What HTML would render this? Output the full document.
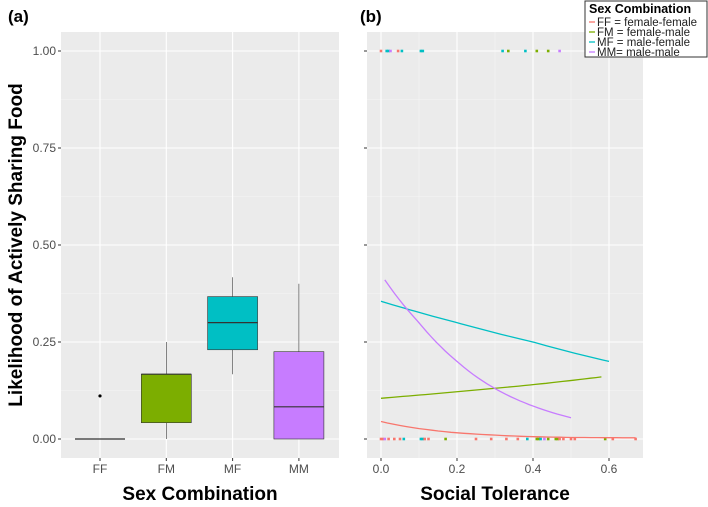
<!DOCTYPE html>
<html><head><meta charset="utf-8"><style>
body{margin:0;background:#fff;font-family:"Liberation Sans",sans-serif}
svg text{font-family:"Liberation Sans",sans-serif}
</style></head><body>
<svg id="c" width="708" height="502" xmlns="http://www.w3.org/2000/svg"></svg>
<script>
const cats=["FF","FM","MF","MM"];
const colors=["#F8766D","#7CAE00","#00BFC4","#C77CFF"];
const boxLow=[0,0,0.167,0];
const boxQ1=[0,0.042,0.23,0];
const boxMed=[0,0.167,0.30,0.083];
const boxQ3=[0,0.167,0.367,0.225];
const boxHigh=[0,0.25,0.417,0.40];
const outliers=[[0,0.111]];
const yTicks=[0,0.25,0.5,0.75,1];
const yTickLabels=["0.00","0.25","0.50","0.75","1.00"];
const xTicksB=[0,0.2,0.4,0.6];
const xTickLabelsB=["0.0","0.2","0.4","0.6"];
const curveX=[[0,0.1,0.2,0.3,0.4,0.5,0.67],[0,0.2,0.4,0.58],[0,0.2,0.4,0.6],[0.01,0.1,0.2,0.3,0.4,0.5]];
const curveY=[[0.045,0.027,0.016,0.010,0.006,0.004,0.003],[0.105,0.122,0.14,0.16],[0.355,0.30,0.25,0.20],[0.41,0.30,0.20,0.13,0.085,0.055]];
const topPtsX=[0.0,0.015,0.02,0.025,0.045,0.055,0.105,0.11,0.32,0.335,0.38,0.41,0.44,0.47];
const topPtsG=[0,2,2,3,0,2,2,2,2,1,2,1,1,3];
const botPtsX=[0.0,0.005,0.01,0.02,0.035,0.05,0.06,0.105,0.11,0.115,0.125,0.17,0.25,0.29,0.33,0.36,0.385,0.41,0.415,0.42,0.43,0.44,0.46,0.465,0.47,0.48,0.5,0.51,0.59,0.61,0.67];
const botPtsG=[0,0,3,0,0,0,2,2,2,0,0,1,0,0,0,0,2,1,1,2,3,1,1,1,0,0,0,0,1,0,0];

const svg=document.getElementById('c');
const NS="http://www.w3.org/2000/svg";
function el(t,a,p){const e=document.createElementNS(NS,t);for(const k in a)e.setAttribute(k,a[k]);(p||svg).appendChild(e);return e;}
function txt(s,a,p){const e=el('text',a,p);e.textContent=s;return e;}
const yS=v=>439-v*388;
// panel a
const A={x0:61,x1:339,y0:32,y1:458};
const xA=i=>100+i*66.3;
let g=el('g',{});
el('rect',{x:A.x0,y:A.y0,width:A.x1-A.x0,height:A.y1-A.y0,fill:"#EBEBEB"},g);
for(let i=0;i<yTicks.length-1;i++){const m=(yTicks[i]+yTicks[i+1])/2;el('line',{x1:A.x0,x2:A.x1,y1:yS(m),y2:yS(m),stroke:"#F5F5F5","stroke-width":0.6},g);}
yTicks.forEach((v,i)=>{el('line',{x1:A.x0,x2:A.x1,y1:yS(v),y2:yS(v),stroke:"#fff","stroke-width":1.1},g);
 el('line',{x1:A.x0-3,x2:A.x0,y1:yS(v),y2:yS(v),stroke:"#333"},g);
 const t=txt(yTickLabels[i],{x:A.x0-5,y:yS(v)+4,"text-anchor":"end","font-size":12,fill:"#4D4D4D"},g);});
cats.forEach((c,i)=>{const x=xA(i);el('line',{x1:x,x2:x,y1:A.y0,y2:A.y1,stroke:"#fff","stroke-width":1.1},g);
 el('line',{x1:x,x2:x,y1:A.y1,y2:A.y1+3,stroke:"#333"},g);
 const t=txt(c,{x:x,y:A.y1+15,"text-anchor":"middle","font-size":12,fill:"#4D4D4D"},g);});
cats.forEach((c,i)=>{const x=xA(i),w=50;const bg=el('g',{},g);
 el('line',{x1:x,x2:x,y1:yS(boxHigh[i]),y2:yS(boxQ3[i]),stroke:"#333","stroke-width":0.6},bg);
 el('line',{x1:x,x2:x,y1:yS(boxLow[i]),y2:yS(boxQ1[i]),stroke:"#333","stroke-width":0.6},bg);
 el('rect',{x:x-w/2,y:yS(boxQ3[i]),width:w,height:Math.max(0,yS(boxQ1[i])-yS(boxQ3[i])),fill:colors[i],stroke:"#333","stroke-width":0.6},bg);
 el('line',{x1:x-w/2,x2:x+w/2,y1:yS(boxMed[i]),y2:yS(boxMed[i]),stroke:"#333","stroke-width":1.2},bg);});
outliers.forEach(o=>{const c=el('circle',{cx:xA(o[0]),cy:yS(o[1]),r:1.6,fill:"#000"},g);});
let t=txt("(a)",{x:8,y:22,"font-size":17,"font-weight":"bold"});
t=txt("Sex Combination",{x:200,y:500,"text-anchor":"middle","font-size":19,"font-weight":"bold"});
t=txt("Likelihood of Actively Sharing Food",{x:0,y:0,"text-anchor":"middle","font-size":19,"font-weight":"bold",transform:"translate(22,245) rotate(-90)"});
// panel b
const B={x0:367,x1:643,y0:32,y1:458};
const xB=v=>381+v*380;
g=el('g',{});
el('rect',{x:B.x0,y:B.y0,width:B.x1-B.x0,height:B.y1-B.y0,fill:"#EBEBEB"},g);
for(let i=0;i<yTicks.length-1;i++){const m=(yTicks[i]+yTicks[i+1])/2;el('line',{x1:B.x0,x2:B.x1,y1:yS(m),y2:yS(m),stroke:"#F5F5F5","stroke-width":0.6},g);}
[0.1,0.3,0.5].forEach(v=>el('line',{x1:xB(v),x2:xB(v),y1:B.y0,y2:B.y1,stroke:"#F5F5F5","stroke-width":0.6},g));
yTicks.forEach(v=>{el('line',{x1:B.x0,x2:B.x1,y1:yS(v),y2:yS(v),stroke:"#fff","stroke-width":1.1},g);el('line',{x1:B.x0-3,x2:B.x0,y1:yS(v),y2:yS(v),stroke:"#333"},g);});
xTicksB.forEach((v,i)=>{el('line',{x1:xB(v),x2:xB(v),y1:B.y0,y2:B.y1,stroke:"#fff","stroke-width":1.1},g);
 el('line',{x1:xB(v),x2:xB(v),y1:B.y1,y2:B.y1+3,stroke:"#333"},g);
 const tt=txt(xTickLabelsB[i],{x:xB(v),y:B.y1+15,"text-anchor":"middle","font-size":12,fill:"#4D4D4D"},g);});
topPtsX.forEach((v,i)=>{const r=el('rect',{x:xB(v)-1.3,y:yS(1)-1.3,width:2.6,height:2.6,fill:colors[topPtsG[i]]},g);});
botPtsX.forEach((v,i)=>{const r=el('rect',{x:xB(v)-1.3,y:yS(0)-1.3,width:2.6,height:2.6,fill:colors[botPtsG[i]]},g);});
curveX.forEach((xs,k)=>{let d="";const n=40;const x0=xs[0],x1=xs[xs.length-1];
 for(let j=0;j<=n;j++){const x=x0+(x1-x0)*j/n;let s=0;while(s<xs.length-2&&x>xs[s+1])s++;const f=(x-xs[s])/(xs[s+1]-xs[s]);
  const ly=Math.log(curveY[k][s])*(1-f)+Math.log(curveY[k][s+1])*f;d+=(j?"L":"M")+xB(x).toFixed(1)+","+yS(Math.exp(ly)).toFixed(1);}
 const p=el('path',{d:d,fill:"none",stroke:colors[k],"stroke-width":1.3},g);});
t=txt("(b)",{x:360,y:22,"font-size":17,"font-weight":"bold"});
t=txt("Social Tolerance",{x:495,y:500,"text-anchor":"middle","font-size":19,"font-weight":"bold"});
// legend
const lg=el('g',{});
el('rect',{x:585,y:1,width:122,height:56,fill:"#fff",stroke:"#333","stroke-width":1},lg);
txt("Sex Combination",{x:589,y:13,"font-size":12.5,"font-weight":"bold"},lg);
const labs=["FF  = female-female","FM = female-male","MF = male-female","MM= male-male"];
labs.forEach((l,i)=>{const y=22+i*10;const e=el('g',{},lg);
 el('line',{x1:589,x2:595,y1:y,y2:y,stroke:colors[i],"stroke-width":1.3},e);
 txt(l,{x:597,y:y+4,"font-size":11.5,fill:"#222"},e);});
</script>
</body></html>
